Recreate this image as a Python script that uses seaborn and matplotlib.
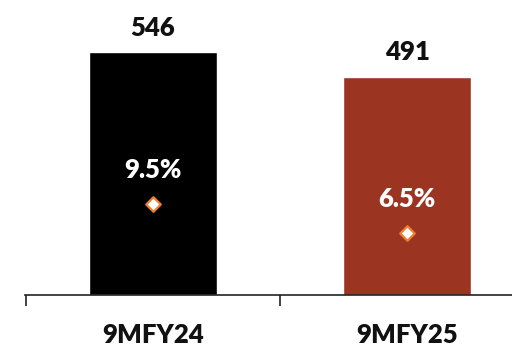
import matplotlib
matplotlib.use("Agg")
import matplotlib.pyplot as plt
import seaborn as sns
import pandas as pd

periods = ["9MFY24", "9MFY25"]
revenue = [546, 491]
margin_pct = [9.5, 6.5]
bar_colors = ["#000000", "#9C3422"]

sns.set_theme(style="white")
plt.rcParams["font.family"] = ["Lato", "DejaVu Sans"]

FS = 18.5
WEIGHT = "heavy"

df = pd.DataFrame({"period": periods, "revenue": revenue, "margin": margin_pct})

fig = plt.figure(figsize=(5.12, 3.46), dpi=100)
ax = fig.add_axes([25 / 512, 51 / 346, 487 / 512, 295 / 346])

sns.barplot(data=df, x="period", y="revenue", hue="period",
            palette=bar_colors, width=0.504, saturation=1,
            legend=False, ax=ax)

ax.set_xlim(-0.504, 1.413)
ax.set_ylim(0, 663)

for cont in ax.containers:
    ax.bar_label(cont, fmt="%d", padding=9, fontsize=FS,
                 fontweight=WEIGHT, color="#111111")

# category boundaries as ticks, names centred under the bars
ax.set_xticks([-0.5, 0.5])
ax.set_xticklabels(["", ""])
ax.set_xticks([0, 1], minor=True)
ax.set_xticklabels(periods, minor=True, fontsize=FS, fontweight=WEIGHT,
                   color="#111111")
ax.tick_params(axis="x", which="major", direction="out", length=8,
               width=1.2, color="#222222", bottom=True)
ax.tick_params(axis="x", which="minor", length=0, pad=20)
ax.set_yticks([])
ax.set_xlabel("")
ax.set_ylabel("")
for side in ["left", "top", "right"]:
    ax.spines[side].set_visible(False)
ax.spines["bottom"].set_color("#222222")
ax.spines["bottom"].set_linewidth(1.2)

# margin on a secondary scale
ax2 = ax.twinx()
sns.scatterplot(data=df, x="period", y="margin", marker="D", s=55,
                color="white", edgecolor="#ED7D31", linewidth=1.6,
                ax=ax2, zorder=5)
ax2.set_ylim(0, 30.86)
ax2.set_xlim(-0.504, 1.413)
ax2.set_yticks([])
ax2.set_ylabel("")
for side in ["left", "top", "right", "bottom"]:
    ax2.spines[side].set_visible(False)

for i, m in enumerate(margin_pct):
    ax2.annotate(f"{m}%", (i, m), xytext=(0, 24.5), textcoords="offset points",
                 ha="center", va="center", fontsize=FS, fontweight=WEIGHT,
                 color="white")

fig.savefig("out.png", dpi=100)
